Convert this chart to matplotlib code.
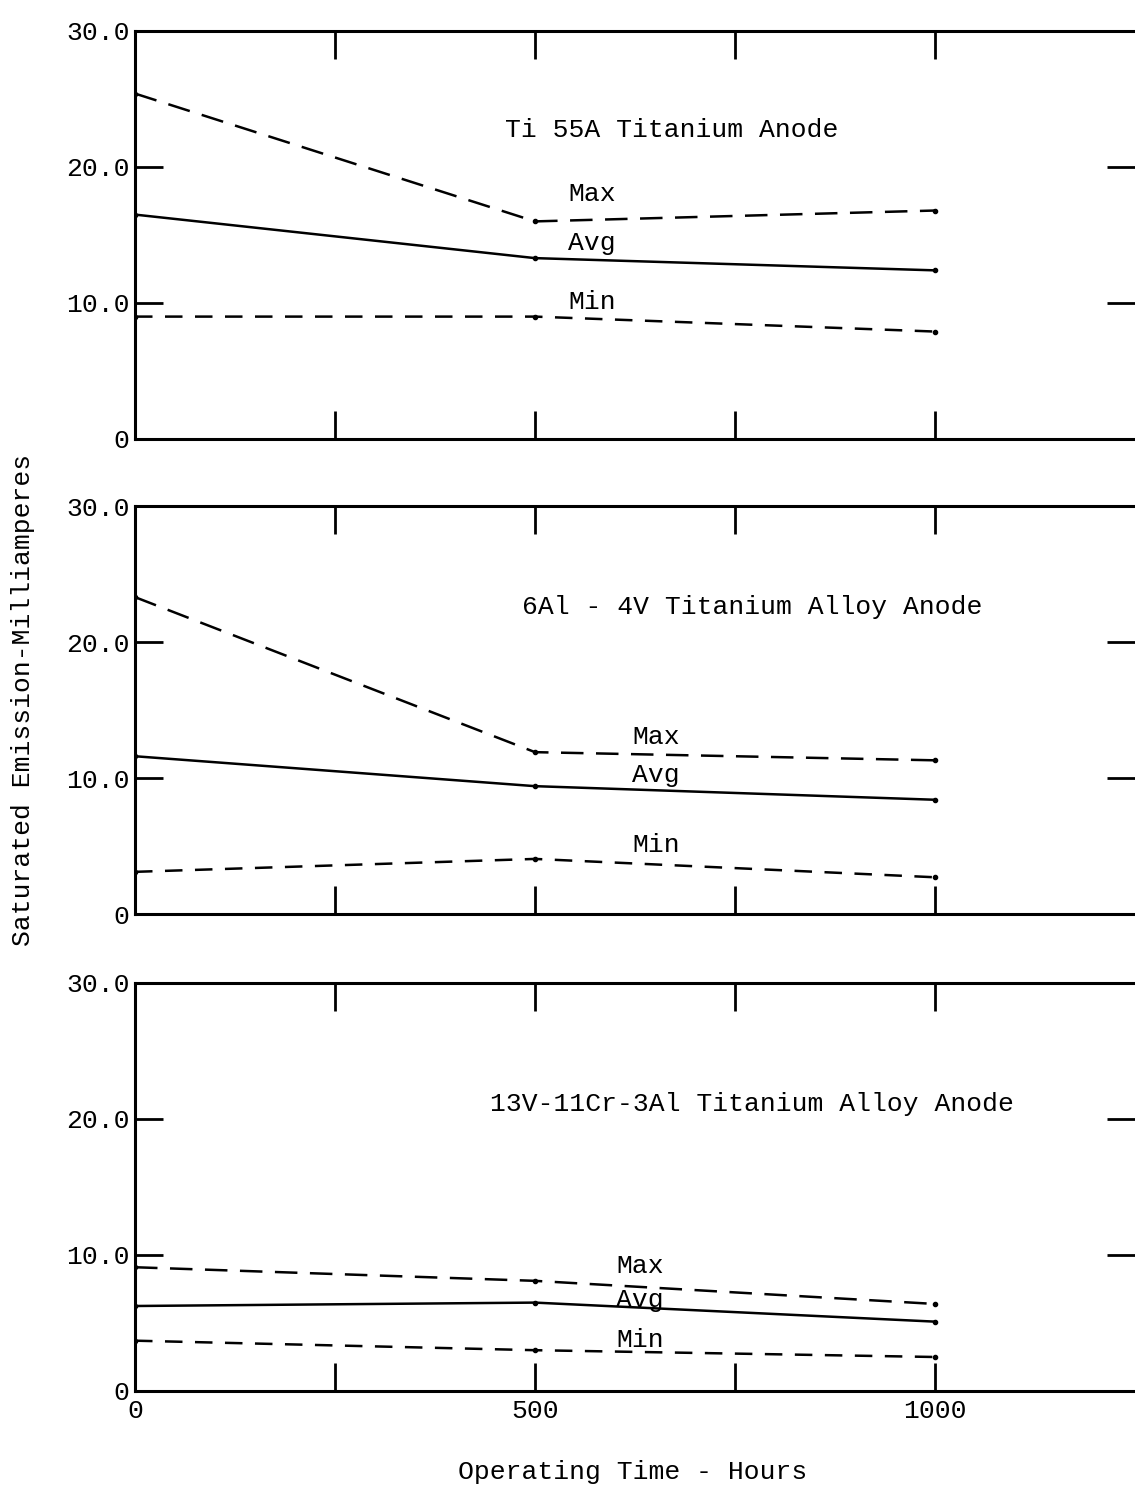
import matplotlib
matplotlib.use('Agg')
import matplotlib.pyplot as plt

# operating time (hours) at which emission was measured
hours = [0, 500, 1000]

# saturated emission, mA
ti55a_max = [25.4, 16.0, 16.8]
ti55a_avg = [16.5, 13.3, 12.4]
ti55a_min = [9.0, 9.0, 7.9]

al6v4_max = [23.3, 11.9, 11.3]
al6v4_avg = [11.6, 9.4, 8.4]
al6v4_min = [3.1, 4.05, 2.7]

v13cr11_max = [9.1, 8.1, 6.4]
v13cr11_avg = [6.25, 6.5, 5.1]
v13cr11_min = [3.7, 3.0, 2.5]

titles = ["Ti 55A Titanium Anode",
          "6Al - 4V Titanium Alloy Anode",
          "13V-11Cr-3Al Titanium Alloy Anode"]
title_pos = [(671, 22.7), (772, 22.6), (771, 21.1)]
# where the Max / Avg / Min words sit in each panel
label_x = [571, 651, 631]
label_y = [(18.0, 14.4, 10.1), (13.0, 10.2, 5.1), (9.2, 6.7, 3.75)]

ytick_vals = [0, 10, 20, 30]
ytick_text = ["0", "10.0", "20.0", "30.0"]
xtick_vals = [0, 250, 500, 750, 1000]
xtick_text = ["0", "", "500", "", "1000"]

plt.rcParams['font.family'] = ['Liberation Mono', 'DejaVu Sans Mono']
fs = 19

fig = plt.figure(figsize=(11.35, 14.89), dpi=100)

panels = [(ti55a_max, ti55a_avg, ti55a_min),
          (al6v4_max, al6v4_avg, al6v4_min),
          (v13cr11_max, v13cr11_avg, v13cr11_min)]
bottoms = [1 - 439/1489, 1 - 914/1489, 1 - 1391/1489]
height = 408/1489
left = 135/1135

for i in range(0, 3):
    ax = fig.add_axes([left, bottoms[i], 1 - left, height])
    mx, av, mn = panels[i]
    ax.plot(hours, mx, color='black', lw=1.8, ls=(0, (9, 5)), marker='o', ms=3)
    ax.plot(hours, av, color='black', lw=1.8, ls='-', marker='o', ms=3)
    ax.plot(hours, mn, color='black', lw=1.8, ls=(0, (7, 5)), marker='o', ms=3)

    ax.set_xlim(0, 1250)
    ax.set_ylim(0, 30)
    ax.spines['right'].set_visible(False)
    for s in ['left', 'top', 'bottom']:
        ax.spines[s].set_linewidth(2.2)

    ax.set_yticks(ytick_vals)
    ax.set_yticklabels(ytick_text, fontsize=fs)
    ax.set_xticks(xtick_vals)
    if i == 2:
        ax.set_xticklabels(xtick_text, fontsize=fs)
    else:
        ax.set_xticklabels([])
    ax.tick_params(direction='in', length=20, width=2, top=True, right=True,
                   pad=4)
    ax.tick_params(axis='x', pad=6)

    ax.text(title_pos[i][0], title_pos[i][1], titles[i], fontsize=fs,
            ha='center', va='center')
    for lab, yy in zip(["Max", "Avg", "Min"], label_y[i]):
        ax.text(label_x[i], yy, lab, fontsize=fs, ha='center', va='center')

fig.text(0.02, 1 - 700/1489, "Saturated Emission-Milliamperes", fontsize=fs,
         rotation=90, ha='center', va='center')
fig.text(633/1135, 1 - 1472/1489, "Operating Time - Hours", fontsize=fs,
         ha='center', va='center')

plt.savefig("out.png", dpi=100)
